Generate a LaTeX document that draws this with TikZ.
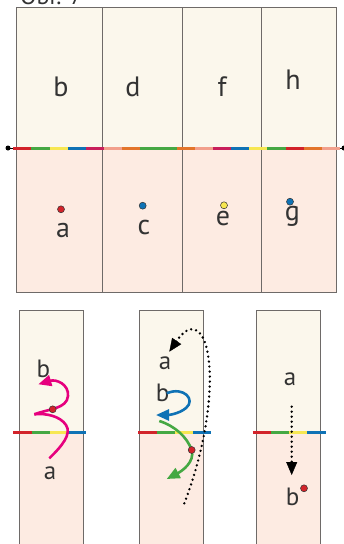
\documentclass[tikz,border=0pt]{standalone}
\usepackage{fontspec}
\setmainfont{PT Sans}
\usetikzlibrary{arrows.meta}
\definecolor{cream}{HTML}{FBF7EC}
\definecolor{pinkbg}{HTML}{FDEBE2}
\definecolor{cRed}{HTML}{D2232A}
\definecolor{cGreen}{HTML}{45A843}
\definecolor{cYellow}{HTML}{F7E752}
\definecolor{cBlue}{HTML}{0F72B5}
\definecolor{cCrimson}{HTML}{C81F5B}
\definecolor{cSalmon}{HTML}{F2A08C}
\definecolor{cOrange}{HTML}{E3752B}
\definecolor{cMagenta}{HTML}{E6007E}
\definecolor{txt}{HTML}{333333}
\definecolor{frame}{HTML}{6E6A68}
\tikzset{
  lbl/.style={text=txt,inner sep=0pt,font=\fontsize{28}{30}\selectfont},
  slbl/.style={text=txt,inner sep=0pt,font=\fontsize{25}{27}\selectfont},
  pt/.style={circle,draw=black!80,line width=0.5pt,inner sep=0pt,minimum size=7pt},
  panel/.style={draw=frame,line width=0.9pt},
  seg/.style={line width=3pt},
  tipA/.style={-{Triangle[length=13pt,width=11pt]}},
  dotline/.style={line width=2.6pt,line cap=round,dash pattern=on 0pt off 5pt},
}
\begin{document}
\begin{tikzpicture}[x=1pt,y=-1pt]
\useasboundingbox (0,0) rectangle (344,544);
% caption (cut off at top, as in the reference)
\node[anchor=base west,inner sep=0pt,text=txt,font=\fontsize{24}{26}\selectfont] (cap) at (20,4) {Obr. 7};
% ---------- top panel ----------
\fill[cream] (16,7) rectangle (336,148);
\fill[pinkbg] (16,148) rectangle (336,292);
\foreach \x in {102,182,261}{\draw[panel] (\x,7) -- (\x,292);}
\draw[panel] (16,7) rectangle (336,292);
\coordinate (L) at (8,148);
\coordinate (R) at (344,148);
\draw[line width=0.8pt] (L) -- (R);
\fill (L) circle (2.5);
\fill (R) circle (2.5);
\foreach \c [count=\i from 0] in {cRed,cGreen,cYellow,cBlue,cCrimson,cSalmon,cOrange,cGreen,cGreen,cOrange,cSalmon,cCrimson,cBlue,cYellow,cGreen,cRed,cOrange,cSalmon}{
  \draw[seg,\c] ({13.3+\i*18.15},148) -- ({13.3+(\i+1)*18.15},148);
}
\node[lbl] (b) at (61,87) {b};
\node[lbl] (d) at (133,87) {d};
\node[lbl] (f) at (222,87) {f};
\node[lbl] (h) at (293,80) {h};
\node[pt,fill=cRed] (pa) at (61,209.3) {};
\node[pt,fill=cBlue] (pc) at (142.7,205.7) {};
\node[pt,fill=cYellow] (pe) at (224,205.3) {};
\node[pt,fill=cBlue] (pg) at (290,201.7) {};
\node[lbl] (a) at (63,230) {a};
\node[lbl] (c) at (144,227.5) {c};
\node[lbl] (e) at (223,218) {e};
\node[lbl] (g) at (292.5,216.5) {g};
% ---------- bottom panels ----------
\foreach \xl/\xr in {19/83.3,139/203.3,256/320.7}{
  \fill[cream] (\xl,310.7) rectangle (\xr,432.7);
  \fill[pinkbg] (\xl,432.7) rectangle (\xr,560);
  \draw[panel] (\xl,560) -- (\xl,310.7) -- (\xr,310.7) -- (\xr,560);
}
\foreach \s in {13.3,138.3,252.7}{
  \foreach \c [count=\i from 0] in {cRed,cGreen,cYellow,cBlue}{
    \draw[seg,\c] ({\s+\i*18.2},432.7) -- ({\s+(\i+1)*18.2},432.7);
  }
}
% panel 1
\node[slbl] (b1) at (43.3,369) {b};
\node[slbl] (a1) at (50,473) {a};
\coordinate (m0) at (49.3,458.3);
\coordinate (mc) at (34.3,414.3);
\coordinate (m1) at (38.3,384.3);
\draw[cMagenta,line width=2.6pt] (m0) .. controls (62,446) and (72,434) .. (66,425) .. controls (60,416) and (46,413) .. (mc);
\draw[cMagenta,line width=2.6pt,tipA] (mc) .. controls (48,409) and (67,409) .. (68,396) .. controls (69,384) and (56,379) .. (m1);
\node[pt,fill=cRed] (r1) at (52.7,409.3) {};
% panel 2
\node[slbl] (a2) at (165,363.3) {a};
\node[slbl] (b2) at (162.5,393) {b};
\coordinate (d0) at (184.3,503.3);
\coordinate (d1) at (169.3,351.7);
\draw[dotline] (d0) .. controls (205,450) and (214,390) .. (208,355) .. controls (204,328) and (190,320) .. (176,342);
\draw[tipA] (176,342) -- (d1);
\coordinate (u0) at (166.7,393.3);
\coordinate (u1) at (156,415);
\draw[cBlue,line width=2.6pt,tipA] (u0) .. controls (184,386) and (196,400) .. (186,408) .. controls (179,414) and (168,415) .. (u1);
\coordinate (g0) at (159.3,421);
\coordinate (g1) at (166.7,479);
\coordinate (gm) at (191.7,450);
\draw[cGreen,line width=2.6pt,tipA] (g0) .. controls (175,426) and (187,437) .. (gm) .. controls (195,462) and (182,471) .. (g1);
\node[pt,fill=cRed] (r2) at (gm) {};
% panel 3
\node[slbl] (a3) at (290,379) {a};
\node[slbl] (b3) at (292.7,497) {b};
\node[pt,fill=cRed] (r3) at (304,488.3) {};
\coordinate (v0) at (291.7,406.7);
\coordinate (v1) at (291.7,475);
\draw[dotline] (v0) -- (291.7,462);
\draw[tipA] (291.7,462) -- (v1);
\end{tikzpicture}
\end{document}
